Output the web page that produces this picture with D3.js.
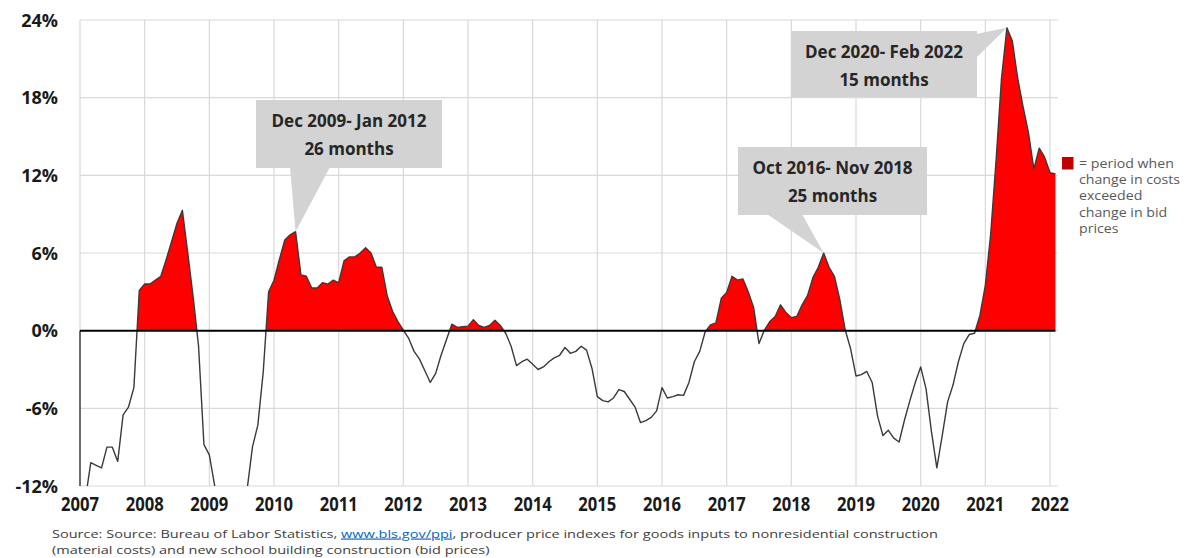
<!DOCTYPE html>
<html>
<head>
<meta charset="utf-8">
<script src="https://cdn.jsdelivr.net/npm/d3@7"></script>
<style>
  html, body { margin: 0; padding: 0; background: #ffffff; }
  svg { display: block; }
</style>
</head>
<body>
<svg id="chart" width="1196" height="558"></svg>
<script>
// Monthly series starting January 2007: year-over-year change in material costs
// minus year-over-year change in bid prices (percentage points).
const startYear = 2007;
const costMinusBid = [
  // 2007
  -14.5, -13.0, -10.2, -10.4, -10.6, -9.0, -9.0, -10.1, -6.5, -5.9, -4.4, 3.1,
  // 2008
  3.6, 3.6, 3.9, 4.2, 5.5, 6.9, 8.3, 9.3, 6.0, 2.6, -1.2, -8.8,
  // 2009
  -9.6, -12.0, -14.5, -16.5, -17.5, -17.5, -16.0, -12.3, -9.0, -7.3, -3.2, 3.0,
  // 2010
  3.9, 5.5, 7.0, 7.4, 7.65, 4.3, 4.2, 3.3, 3.3, 3.7, 3.6, 3.9,
  // 2011
  3.7, 5.4, 5.7, 5.7, 6.0, 6.4, 6.0, 4.9, 4.9, 2.7, 1.5, 0.7,
  // 2012
  0.05, -0.6, -1.6, -2.2, -3.1, -4.0, -3.3, -1.9, -0.7, 0.5, 0.25, 0.3,
  // 2013
  0.35, 0.85, 0.4, 0.25, 0.4, 0.8, 0.4, -0.2, -1.2, -2.7, -2.4, -2.2,
  // 2014
  -2.6, -3.0, -2.8, -2.4, -2.1, -1.9, -1.3, -1.75, -1.6, -1.2, -1.5, -2.9,
  // 2015
  -5.1, -5.4, -5.5, -5.2, -4.55, -4.7, -5.3, -5.9, -7.1, -6.95, -6.7, -6.2,
  // 2016
  -4.4, -5.2, -5.1, -4.95, -5.0, -4.0, -2.4, -1.6, -0.1, 0.45, 0.6, 2.5,
  // 2017
  2.95, 4.2, 3.9, 4.0, 3.0, 1.8, -1.0, 0.05, 0.7, 1.1, 2.0, 1.4,
  // 2018
  1.0, 1.1, 2.0, 2.7, 4.1, 4.9, 6.0, 4.9, 4.2, 2.4, 0.05, -1.4,
  // 2019
  -3.5, -3.4, -3.15, -4.0, -6.6, -8.1, -7.7, -8.3, -8.6, -6.9, -5.4, -4.0,
  // 2020
  -2.8, -4.5, -7.8, -10.6, -8.1, -5.5, -4.2, -2.4, -1.0, -0.3, -0.2, 1.2,
  // 2021
  3.5, 7.5, 13.2, 19.5, 23.4, 22.4, 19.5, 17.3, 15.3, 12.5, 14.1, 13.4,
  // 2022
  12.2, 12.1
];

const yearLabels = [2007, 2008, 2009, 2010, 2011, 2012, 2013, 2014, 2015,
                    2016, 2017, 2018, 2019, 2020, 2021, 2022];
const yTicks = [-12, -6, 0, 6, 12, 18, 24];

// Periods in which cost growth outran bid growth (month indices from Jan 2007).
const periodLabels = [
  ["Dec 2009- Jan 2012", "26 months"],
  ["Oct 2016- Nov 2018", "25 months"],
  ["Dec 2020- Feb 2022", "15 months"]
];
const periodStart = [35, 117, 167];
const periodEnd = [60, 142, 181];

const legendLines = ["= period when", "change in costs", "exceeded", "change in bid", "prices"];

const sourceLine1 = ["Source: Source: Bureau of Labor Statistics, ", "www.bls.gov/ppi",
                     ", producer price indexes for goods inputs to nonresidential construction"];
const sourceLine2 = "(material costs) and new school building construction (bid prices)";

// ---------------------------------------------------------------------------
const svg = d3.select("#chart");
const plot = { left: 80, right: 1050, top: 20, bottom: 486, gridRight: 1058 };

const x = d3.scaleLinear()
  .domain([0, (yearLabels[yearLabels.length - 1] - startYear) * 12])
  .range([plot.left, plot.right]);
const y = d3.scaleLinear().domain([-12, 24]).range([plot.bottom, plot.top]);

const points = costMinusBid.map((v, i) => ({ m: i, v }));

// clip region for the series
svg.append("defs").append("clipPath").attr("id", "plotClip")
  .append("rect")
  .attr("x", plot.left).attr("y", plot.top)
  .attr("width", plot.gridRight - plot.left).attr("height", plot.bottom - plot.top);

// gridlines
const grid = svg.append("g").attr("stroke", "#d9d9d9").attr("stroke-width", 1.2);
grid.selectAll("line.h").data(yTicks).join("line")
  .attr("x1", plot.left).attr("x2", plot.gridRight)
  .attr("y1", d => y(d)).attr("y2", d => y(d));
grid.selectAll("line.v").data(yearLabels).join("line")
  .attr("x1", d => x((d - startYear) * 12)).attr("x2", d => x((d - startYear) * 12))
  .attr("y1", plot.top).attr("y2", plot.bottom);

// red fill for the positive stretches, with crossings interpolated at zero
const filled = [];
points.forEach((p, i) => {
  if (i > 0) {
    const q = points[i - 1];
    if ((q.v > 0 && p.v < 0) || (q.v < 0 && p.v > 0)) {
      const t = q.v / (q.v - p.v);
      filled.push({ m: q.m + t * (p.m - q.m), v: 0 });
    }
  }
  filled.push(p);
});
const area = d3.area()
  .x(d => x(d.m))
  .y0(y(0))
  .y1(d => y(Math.max(0, d.v)));
svg.append("path")
  .datum(filled)
  .attr("clip-path", "url(#plotClip)")
  .attr("fill", "#ff0000")
  .attr("d", area);

// left axis segment below zero
svg.append("line")
  .attr("x1", plot.left).attr("x2", plot.left)
  .attr("y1", y(0)).attr("y2", y(-12))
  .attr("stroke", "#4d4d4d").attr("stroke-width", 1.6);

// series line
const line = d3.line().x(d => x(d.m)).y(d => y(d.v));
svg.append("path")
  .datum(points)
  .attr("clip-path", "url(#plotClip)")
  .attr("fill", "none")
  .attr("stroke", "#3a3a3a")
  .attr("stroke-width", 1.4)
  .attr("stroke-linejoin", "round")
  .attr("d", line);

// zero line
svg.append("line")
  .attr("x1", plot.left).attr("x2", x(costMinusBid.length - 1))
  .attr("y1", y(0)).attr("y2", y(0))
  .attr("stroke", "#000000").attr("stroke-width", 2);

// y tick labels
svg.append("g").selectAll("text").data(yTicks).join("text")
  .attr("x", 58)
  .attr("y", d => y(d) + 6.5)
  .attr("text-anchor", "end")
  .attr("font-family", "'Open Sans', sans-serif")
  .attr("font-weight", 700)
  .attr("font-size", 18)
  .attr("fill", "#1a1a1a")
  .text(d => d + "%");

// x tick labels
svg.append("g").selectAll("text").data(yearLabels).join("text")
  .attr("x", d => x((d - startYear) * 12))
  .attr("y", 511)
  .attr("text-anchor", "middle")
  .attr("font-family", "'Open Sans', sans-serif")
  .attr("font-weight", 700)
  .attr("font-size", 20)
  .attr("textLength", 38)
  .attr("lengthAdjust", "spacingAndGlyphs")
  .attr("fill", "#1a1a1a")
  .text(d => d);

// callout boxes pointing at each period's peak
const boxes = [
  { x: 256, y: 100, w: 186, h: 68, side: "bottom", base: [290, 330] },
  { x: 738, y: 147, w: 189, h: 68, side: "bottom", base: [767, 802] },
  { x: 791, y: 31, w: 186, h: 66, side: "right", base: [34, 58] }
];
const callouts = svg.append("g");
periodLabels.forEach((lines, i) => {
  const b = boxes[i];
  const slice = costMinusBid.slice(periodStart[i], periodEnd[i] + 1);
  const peakM = periodStart[i] + d3.maxIndex(slice);
  const tip = [x(peakM), y(costMinusBid[peakM])];
  let tail;
  if (b.side === "bottom") {
    tail = [[b.base[0], b.y + b.h - 1], tip, [b.base[1], b.y + b.h - 1]];
  } else {
    tail = [[b.x + b.w - 1, b.base[0]], tip, [b.x + b.w - 1, b.base[1]]];
  }
  callouts.append("polygon")
    .attr("points", tail.map(p => p.join(",")).join(" "))
    .attr("fill", "#d3d3d3");
  callouts.append("rect")
    .attr("x", b.x).attr("y", b.y).attr("width", b.w).attr("height", b.h)
    .attr("fill", "#d3d3d3");
  lines.forEach((t, k) => {
    callouts.append("text")
      .attr("x", b.x + b.w / 2)
      .attr("y", b.y + 27 + k * 28)
      .attr("text-anchor", "middle")
      .attr("font-family", "'Open Sans', sans-serif")
      .attr("font-weight", 700)
      .attr("font-size", 17)
      .attr("fill", "#262626")
      .text(t);
  });
});

// legend
svg.append("rect")
  .attr("x", 1062).attr("y", 157).attr("width", 11.5).attr("height", 12.5)
  .attr("fill", "#c00000");
const legendText = svg.append("g").selectAll("text").data(legendLines).join("text")
  .attr("x", 1079)
  .attr("y", (d, i) => 167.5 + i * 16.4)
  .attr("font-family", "'Open Sans', sans-serif")
  .attr("font-size", 12)
  .attr("fill", "#595959")
  .text(d => d);
// widen the legend lines slightly so the block spans its column
legendText.each(function () {
  const w = this.getComputedTextLength();
  d3.select(this).attr("textLength", w * 1.18).attr("lengthAdjust", "spacingAndGlyphs");
});

// source note, fitted to the width of the chart's note block
const src = svg.append("g")
  .attr("font-family", "'Open Sans', sans-serif")
  .attr("font-size", 11.5)
  .attr("fill", "#404040");
const s1 = src.append("text").attr("x", 52).attr("y", 537.5);
s1.append("tspan").text(sourceLine1[0]);
s1.append("tspan").attr("fill", "#0563c1").attr("text-decoration", "underline").text(sourceLine1[1]);
s1.append("tspan").text(sourceLine1[2]);
const s2 = src.append("text").attr("x", 52).attr("y", 553.5).text(sourceLine2);
const squeeze = 886 / s1.node().getComputedTextLength();
s1.attr("textLength", 886).attr("lengthAdjust", "spacingAndGlyphs");
s2.attr("textLength", s2.node().getComputedTextLength() * squeeze)
  .attr("lengthAdjust", "spacingAndGlyphs");
</script>
</body>
</html>
